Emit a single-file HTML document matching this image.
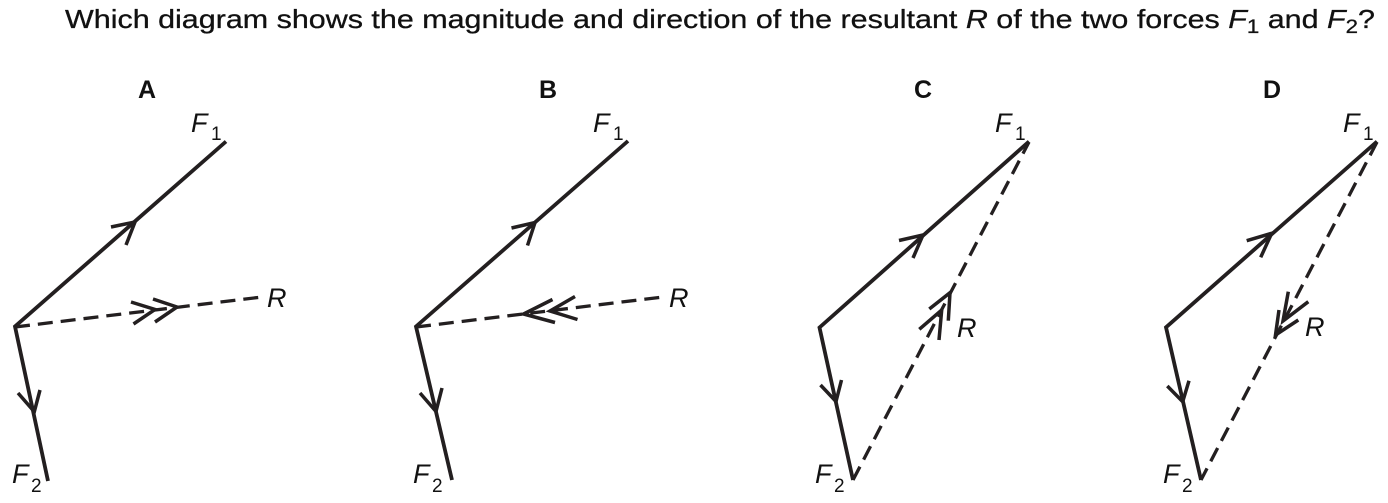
<!DOCTYPE html>
<html>
<head>
<meta charset="utf-8">
<style>
html,body{margin:0;padding:0;background:#fff;}
svg{display:block;}
text{font-family:"Liberation Sans",Arial,sans-serif;fill:#111;}
.b{font-weight:bold;font-size:25px;}
.it{font-style:italic;font-size:27px;}
.sub{font-size:19px;}
.s{fill:none;stroke:#231f20;stroke-width:3.8;stroke-linejoin:miter;stroke-linecap:butt;}
.a{fill:none;stroke:#231f20;stroke-width:3.5;stroke-linejoin:miter;}
.d{fill:none;stroke:#231f20;stroke-width:3.3;stroke-dasharray:15 8;}
</style>
</head>
<body>
<svg width="1388" height="503" viewBox="0 0 1388 503" xmlns="http://www.w3.org/2000/svg">
<rect width="1388" height="503" fill="#fff"/>
<!-- Title -->
<text x="65" y="28" font-size="26" stroke="#111" stroke-width="0.3" textLength="1310" lengthAdjust="spacingAndGlyphs">Which diagram shows the magnitude and direction of the resultant <tspan font-style="italic">R</tspan> of the two forces <tspan font-style="italic">F</tspan><tspan font-size="19" dy="5">1</tspan><tspan dy="-5"> and </tspan><tspan font-style="italic">F</tspan><tspan font-size="19" dy="5">2</tspan><tspan dy="-5">?</tspan></text>

<!-- A -->
<text class="b" x="147" y="98" text-anchor="middle">A</text>
<text class="it" x="191" y="132">F</text><text class="sub" x="211" y="140">1</text>
<text class="it" x="12" y="483">F</text><text class="sub" x="31" y="492">2</text>
<text class="it" x="267" y="307">R</text>
<polyline class="s" points="48,481 15,326.5 226,141.5"/>
<polyline class="a" points="111,227 135,222 126,245"/>
<polyline class="a" points="18,393 34.3,411.7 40,390"/>
<line class="d" x1="15" y1="327" x2="262" y2="297"/>
<polyline class="a" points="131,302 155,309.5 133.5,324"/>
<polyline class="a" points="153,299 177,307 155,322"/>

<!-- B -->
<text class="b" x="548" y="98" text-anchor="middle">B</text>
<text class="it" x="593" y="132">F</text><text class="sub" x="613" y="140">1</text>
<text class="it" x="413" y="483">F</text><text class="sub" x="432" y="492">2</text>
<text class="it" x="669" y="307">R</text>
<polyline class="s" points="452,480 416,326.5 628,141"/>
<polyline class="a" points="511.5,228 535,222.5 527.5,245.5"/>
<polyline class="a" points="420,393 436,411.5 442,388"/>
<line class="d" x1="416" y1="327" x2="663" y2="297"/>
<polyline class="a" points="552.5,299.5 523.5,314 555,322.5"/>
<polyline class="a" points="575,296.5 550,311 577.5,319.5"/>

<!-- C -->
<text class="b" x="923" y="98" text-anchor="middle">C</text>
<text class="it" x="995" y="132">F</text><text class="sub" x="1015" y="140">1</text>
<text class="it" x="815" y="483">F</text><text class="sub" x="834" y="492">2</text>
<text class="it" x="957" y="337">R</text>
<polyline class="s" points="853,480 819.5,327.5 1029,141.5"/>
<polyline class="a" points="899,240.5 923,235 913,258"/>
<polyline class="a" points="820.5,385 836,401.5 841.5,380"/>
<line class="d" x1="853" y1="480" x2="1029" y2="142"/>
<polyline class="a" points="929.3,309 950,292.7 948.3,320.7"/>
<polyline class="a" points="919.3,329.3 941.7,310 939,340"/>

<!-- D -->
<text class="b" x="1272" y="98" text-anchor="middle">D</text>
<text class="it" x="1343" y="132">F</text><text class="sub" x="1363" y="140">1</text>
<text class="it" x="1163" y="483">F</text><text class="sub" x="1182" y="492">2</text>
<text class="it" x="1305" y="336">R</text>
<polyline class="s" points="1201,480 1166,327.3 1377,141.5"/>
<polyline class="a" points="1246.7,240.7 1271.7,233.3 1260.7,257.3"/>
<polyline class="a" points="1167.3,386 1182.7,401.7 1189,380.7"/>
<line class="d" x1="1377" y1="142" x2="1201" y2="480"/>
<polyline class="a" points="1288.3,291.7 1283,321 1308.3,301.7"/>
<polyline class="a" points="1279,310 1275.5,335 1298.3,320"/>
</svg>
</body>
</html>
